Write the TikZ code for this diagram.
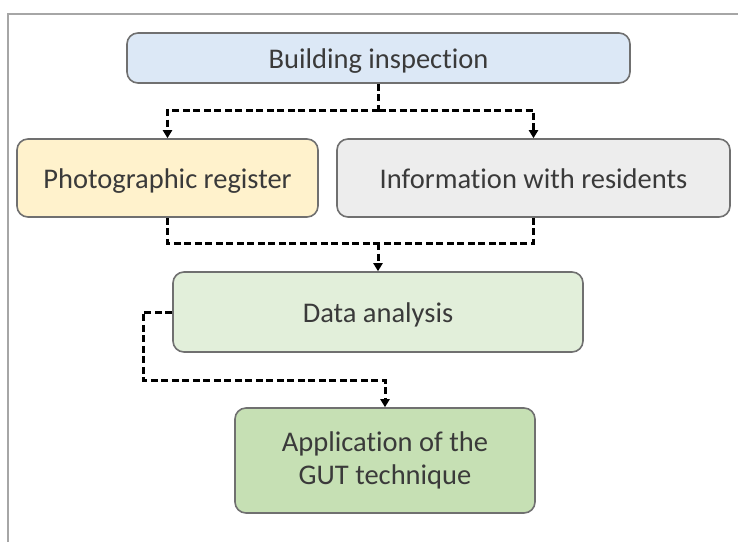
\documentclass[tikz,border=0pt]{standalone}
\usepackage{fontspec}
\setmainfont[RawFeature={-liga;-clig;-calt;-dlig}]{Carlito}
\usetikzlibrary{arrows.meta}
\definecolor{txt}{HTML}{3A3A3A}
\definecolor{bdr}{HTML}{707070}
\definecolor{cblue}{HTML}{DCE8F6}
\definecolor{cyel}{HTML}{FFF2CC}
\definecolor{cgray}{HTML}{EDEDED}
\definecolor{clgreen}{HTML}{E2EFDA}
\definecolor{cgreen}{HTML}{C6E0B4}
\definecolor{frame}{HTML}{A6A6A6}
\tikzset{
  box/.style={draw=bdr, line width=1.6pt, rounded corners=11pt, text=txt,
    font=\fontsize{28.5}{33}\selectfont, align=center, inner sep=0pt},
  one/.style={text height=24pt, text depth=4pt},
  conn/.style={draw=black, line width=3pt, dash pattern=on 7pt off 3.5pt},
  arr/.style={conn, -{Triangle[length=8pt,width=9pt]}},
}
\begin{document}
\begin{tikzpicture}[x=1pt,y=-1pt]
\useasboundingbox (0,0) rectangle (738,542);
\fill[white] (0,0) rectangle (738,542);
\draw[frame, line width=2pt] (8,542) -- (8,14) -- (738,14);

\node[box, one, fill=cblue, minimum width=503pt, minimum height=50pt] (bi) at (378.5,58) {Building inspection};
\node[box, one, fill=cyel, minimum width=301pt, minimum height=78pt] (pr) at (167.5,178) {Photographic register};
\node[box, one, fill=cgray, minimum width=393pt, minimum height=78pt] (ir) at (533.5,178) {Information with residents};
\node[box, one, fill=clgreen, minimum width=410pt, minimum height=80pt] (da) at (378,312) {Data analysis};
\node[box, fill=cgreen, minimum width=300pt, minimum height=105pt] (gut) at (385,460.5) {Application of the\\GUT technique};

\coordinate (s1) at (378.5,110);
\coordinate (j2) at (378,243);
\draw[conn] (bi.south) -- (s1);
\draw[arr] (s1) -| (pr.north);
\draw[arr] (s1) -| (ir.north);
\draw[conn] (pr.south) |- (j2);
\draw[conn] (ir.south) |- (j2);
\draw[arr] (j2) -- (da.north);
\coordinate (c1) at (143,312);
\coordinate (c2) at (143,380);
\draw[arr] (da.west) -- (c1) -- (c2) -| (gut.north);
\end{tikzpicture}
\end{document}
